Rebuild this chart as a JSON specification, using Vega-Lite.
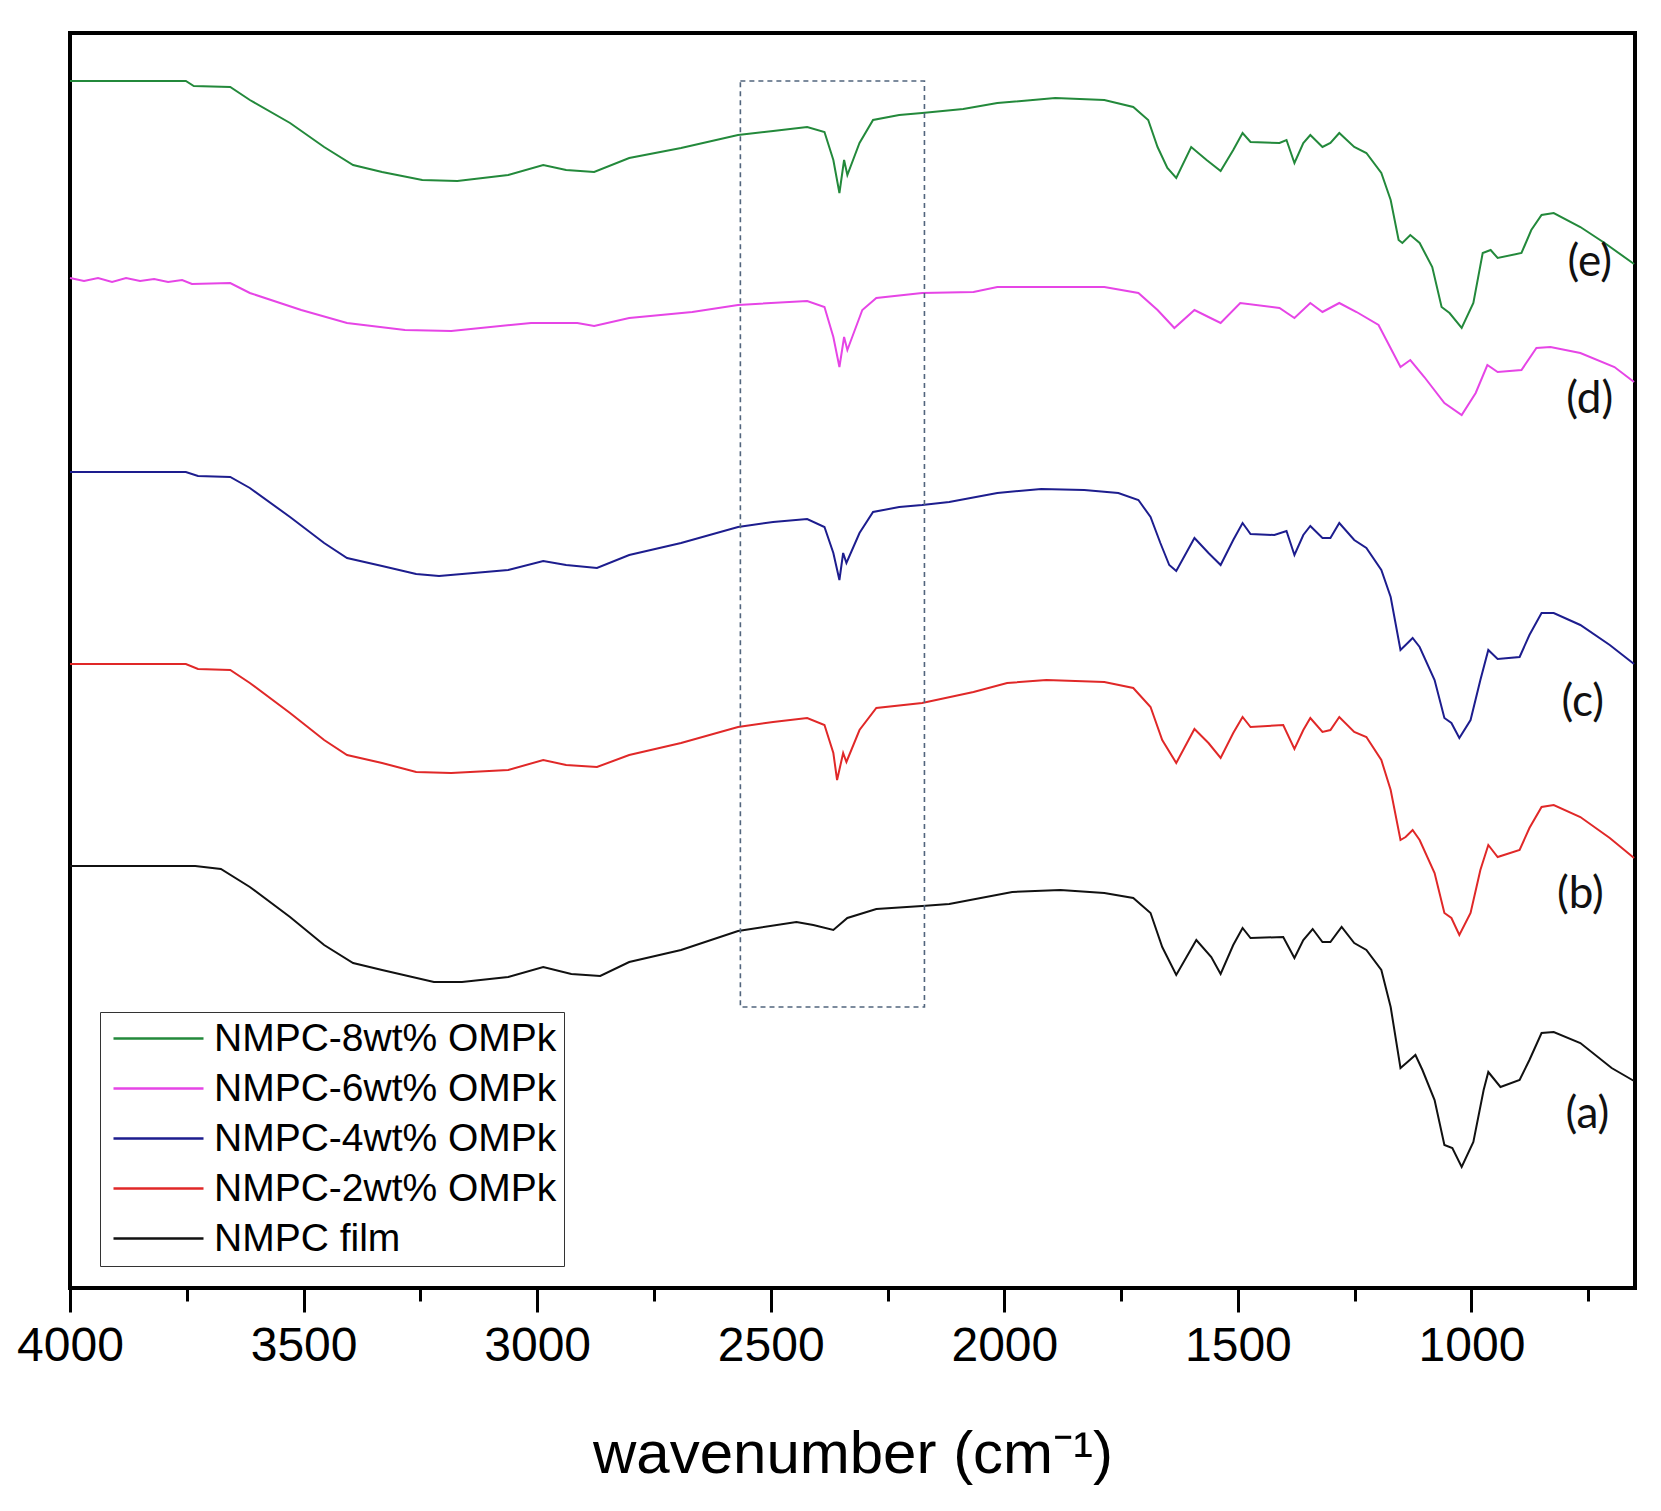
{
  "$schema": "https://vega.github.io/schema/vega-lite/v6.json",
  "description": "FTIR spectra of NMPC films with OMPk loadings (offset traces).",
  "autosize": {"type": "none"},
  "padding": {"left": 70, "top": 33, "right": 26, "bottom": 223},
  "width": 1565,
  "height": 1255,
  "background": "white",
  "config": {
    "view": {"stroke": "#000", "strokeWidth": 4},
    "font": "Liberation Sans"
  },
  "datasets": {
    "spectra": [
      {"series": "NMPC-8wt% OMPk", "wn": 4000, "t": 1207},
      {"series": "NMPC-8wt% OMPk", "wn": 3752, "t": 1207},
      {"series": "NMPC-8wt% OMPk", "wn": 3735, "t": 1202},
      {"series": "NMPC-8wt% OMPk", "wn": 3657, "t": 1201},
      {"series": "NMPC-8wt% OMPk", "wn": 3615, "t": 1188},
      {"series": "NMPC-8wt% OMPk", "wn": 3529, "t": 1165},
      {"series": "NMPC-8wt% OMPk", "wn": 3456, "t": 1141},
      {"series": "NMPC-8wt% OMPk", "wn": 3394, "t": 1123},
      {"series": "NMPC-8wt% OMPk", "wn": 3332, "t": 1116},
      {"series": "NMPC-8wt% OMPk", "wn": 3246, "t": 1108},
      {"series": "NMPC-8wt% OMPk", "wn": 3171, "t": 1107},
      {"series": "NMPC-8wt% OMPk", "wn": 3062, "t": 1113},
      {"series": "NMPC-8wt% OMPk", "wn": 2987, "t": 1123},
      {"series": "NMPC-8wt% OMPk", "wn": 2938, "t": 1118},
      {"series": "NMPC-8wt% OMPk", "wn": 2878, "t": 1116},
      {"series": "NMPC-8wt% OMPk", "wn": 2803, "t": 1130},
      {"series": "NMPC-8wt% OMPk", "wn": 2692, "t": 1140},
      {"series": "NMPC-8wt% OMPk", "wn": 2570, "t": 1153},
      {"series": "NMPC-8wt% OMPk", "wn": 2495, "t": 1157},
      {"series": "NMPC-8wt% OMPk", "wn": 2422, "t": 1161},
      {"series": "NMPC-8wt% OMPk", "wn": 2385, "t": 1156},
      {"series": "NMPC-8wt% OMPk", "wn": 2366, "t": 1128},
      {"series": "NMPC-8wt% OMPk", "wn": 2353, "t": 1095},
      {"series": "NMPC-8wt% OMPk", "wn": 2343, "t": 1128},
      {"series": "NMPC-8wt% OMPk", "wn": 2336, "t": 1113},
      {"series": "NMPC-8wt% OMPk", "wn": 2310, "t": 1145},
      {"series": "NMPC-8wt% OMPk", "wn": 2281, "t": 1168},
      {"series": "NMPC-8wt% OMPk", "wn": 2225, "t": 1173},
      {"series": "NMPC-8wt% OMPk", "wn": 2176, "t": 1175},
      {"series": "NMPC-8wt% OMPk", "wn": 2088, "t": 1179},
      {"series": "NMPC-8wt% OMPk", "wn": 2015, "t": 1185},
      {"series": "NMPC-8wt% OMPk", "wn": 1891, "t": 1190},
      {"series": "NMPC-8wt% OMPk", "wn": 1786, "t": 1188},
      {"series": "NMPC-8wt% OMPk", "wn": 1724, "t": 1181},
      {"series": "NMPC-8wt% OMPk", "wn": 1692, "t": 1168},
      {"series": "NMPC-8wt% OMPk", "wn": 1672, "t": 1141},
      {"series": "NMPC-8wt% OMPk", "wn": 1651, "t": 1120},
      {"series": "NMPC-8wt% OMPk", "wn": 1632, "t": 1110},
      {"series": "NMPC-8wt% OMPk", "wn": 1600, "t": 1141},
      {"series": "NMPC-8wt% OMPk", "wn": 1567, "t": 1128},
      {"series": "NMPC-8wt% OMPk", "wn": 1537, "t": 1117},
      {"series": "NMPC-8wt% OMPk", "wn": 1510, "t": 1138},
      {"series": "NMPC-8wt% OMPk", "wn": 1490, "t": 1155},
      {"series": "NMPC-8wt% OMPk", "wn": 1473, "t": 1146},
      {"series": "NMPC-8wt% OMPk", "wn": 1411, "t": 1145},
      {"series": "NMPC-8wt% OMPk", "wn": 1396, "t": 1148},
      {"series": "NMPC-8wt% OMPk", "wn": 1379, "t": 1125},
      {"series": "NMPC-8wt% OMPk", "wn": 1360, "t": 1145},
      {"series": "NMPC-8wt% OMPk", "wn": 1345, "t": 1153},
      {"series": "NMPC-8wt% OMPk", "wn": 1319, "t": 1141},
      {"series": "NMPC-8wt% OMPk", "wn": 1302, "t": 1145},
      {"series": "NMPC-8wt% OMPk", "wn": 1283, "t": 1155},
      {"series": "NMPC-8wt% OMPk", "wn": 1251, "t": 1141},
      {"series": "NMPC-8wt% OMPk", "wn": 1225, "t": 1135},
      {"series": "NMPC-8wt% OMPk", "wn": 1193, "t": 1115},
      {"series": "NMPC-8wt% OMPk", "wn": 1173, "t": 1088},
      {"series": "NMPC-8wt% OMPk", "wn": 1156, "t": 1048},
      {"series": "NMPC-8wt% OMPk", "wn": 1148, "t": 1045},
      {"series": "NMPC-8wt% OMPk", "wn": 1131, "t": 1053},
      {"series": "NMPC-8wt% OMPk", "wn": 1111, "t": 1045},
      {"series": "NMPC-8wt% OMPk", "wn": 1084, "t": 1021},
      {"series": "NMPC-8wt% OMPk", "wn": 1064, "t": 981},
      {"series": "NMPC-8wt% OMPk", "wn": 1047, "t": 975},
      {"series": "NMPC-8wt% OMPk", "wn": 1021, "t": 960},
      {"series": "NMPC-8wt% OMPk", "wn": 996, "t": 985},
      {"series": "NMPC-8wt% OMPk", "wn": 976, "t": 1035},
      {"series": "NMPC-8wt% OMPk", "wn": 959, "t": 1038},
      {"series": "NMPC-8wt% OMPk", "wn": 944, "t": 1030},
      {"series": "NMPC-8wt% OMPk", "wn": 893, "t": 1035},
      {"series": "NMPC-8wt% OMPk", "wn": 872, "t": 1058},
      {"series": "NMPC-8wt% OMPk", "wn": 850, "t": 1073},
      {"series": "NMPC-8wt% OMPk", "wn": 824, "t": 1075},
      {"series": "NMPC-8wt% OMPk", "wn": 767, "t": 1061},
      {"series": "NMPC-8wt% OMPk", "wn": 715, "t": 1045},
      {"series": "NMPC-8wt% OMPk", "wn": 652, "t": 1024},

      {"series": "NMPC-6wt% OMPk", "wn": 4000, "t": 1010},
      {"series": "NMPC-6wt% OMPk", "wn": 3970, "t": 1007},
      {"series": "NMPC-6wt% OMPk", "wn": 3940, "t": 1010},
      {"series": "NMPC-6wt% OMPk", "wn": 3910, "t": 1006},
      {"series": "NMPC-6wt% OMPk", "wn": 3880, "t": 1010},
      {"series": "NMPC-6wt% OMPk", "wn": 3850, "t": 1007},
      {"series": "NMPC-6wt% OMPk", "wn": 3820, "t": 1009},
      {"series": "NMPC-6wt% OMPk", "wn": 3790, "t": 1006},
      {"series": "NMPC-6wt% OMPk", "wn": 3760, "t": 1008},
      {"series": "NMPC-6wt% OMPk", "wn": 3739, "t": 1004},
      {"series": "NMPC-6wt% OMPk", "wn": 3657, "t": 1005},
      {"series": "NMPC-6wt% OMPk", "wn": 3615, "t": 995},
      {"series": "NMPC-6wt% OMPk", "wn": 3505, "t": 978},
      {"series": "NMPC-6wt% OMPk", "wn": 3407, "t": 965},
      {"series": "NMPC-6wt% OMPk", "wn": 3283, "t": 958},
      {"series": "NMPC-6wt% OMPk", "wn": 3184, "t": 957},
      {"series": "NMPC-6wt% OMPk", "wn": 3013, "t": 965},
      {"series": "NMPC-6wt% OMPk", "wn": 2914, "t": 965},
      {"series": "NMPC-6wt% OMPk", "wn": 2878, "t": 962},
      {"series": "NMPC-6wt% OMPk", "wn": 2803, "t": 970},
      {"series": "NMPC-6wt% OMPk", "wn": 2668, "t": 976},
      {"series": "NMPC-6wt% OMPk", "wn": 2570, "t": 983},
      {"series": "NMPC-6wt% OMPk", "wn": 2422, "t": 987},
      {"series": "NMPC-6wt% OMPk", "wn": 2385, "t": 981},
      {"series": "NMPC-6wt% OMPk", "wn": 2366, "t": 951},
      {"series": "NMPC-6wt% OMPk", "wn": 2353, "t": 921},
      {"series": "NMPC-6wt% OMPk", "wn": 2343, "t": 951},
      {"series": "NMPC-6wt% OMPk", "wn": 2336, "t": 938},
      {"series": "NMPC-6wt% OMPk", "wn": 2304, "t": 978},
      {"series": "NMPC-6wt% OMPk", "wn": 2274, "t": 990},
      {"series": "NMPC-6wt% OMPk", "wn": 2176, "t": 995},
      {"series": "NMPC-6wt% OMPk", "wn": 2066, "t": 996},
      {"series": "NMPC-6wt% OMPk", "wn": 2015, "t": 1001},
      {"series": "NMPC-6wt% OMPk", "wn": 1786, "t": 1001},
      {"series": "NMPC-6wt% OMPk", "wn": 1713, "t": 995},
      {"series": "NMPC-6wt% OMPk", "wn": 1672, "t": 978},
      {"series": "NMPC-6wt% OMPk", "wn": 1636, "t": 960},
      {"series": "NMPC-6wt% OMPk", "wn": 1593, "t": 978},
      {"series": "NMPC-6wt% OMPk", "wn": 1563, "t": 971},
      {"series": "NMPC-6wt% OMPk", "wn": 1537, "t": 965},
      {"series": "NMPC-6wt% OMPk", "wn": 1495, "t": 985},
      {"series": "NMPC-6wt% OMPk", "wn": 1411, "t": 980},
      {"series": "NMPC-6wt% OMPk", "wn": 1379, "t": 970},
      {"series": "NMPC-6wt% OMPk", "wn": 1345, "t": 985},
      {"series": "NMPC-6wt% OMPk", "wn": 1319, "t": 976},
      {"series": "NMPC-6wt% OMPk", "wn": 1283, "t": 985},
      {"series": "NMPC-6wt% OMPk", "wn": 1246, "t": 976},
      {"series": "NMPC-6wt% OMPk", "wn": 1199, "t": 963},
      {"series": "NMPC-6wt% OMPk", "wn": 1152, "t": 921},
      {"series": "NMPC-6wt% OMPk", "wn": 1131, "t": 928},
      {"series": "NMPC-6wt% OMPk", "wn": 1101, "t": 911},
      {"series": "NMPC-6wt% OMPk", "wn": 1058, "t": 885},
      {"series": "NMPC-6wt% OMPk", "wn": 1021, "t": 873},
      {"series": "NMPC-6wt% OMPk", "wn": 991, "t": 895},
      {"series": "NMPC-6wt% OMPk", "wn": 966, "t": 923},
      {"series": "NMPC-6wt% OMPk", "wn": 944, "t": 916},
      {"series": "NMPC-6wt% OMPk", "wn": 893, "t": 918},
      {"series": "NMPC-6wt% OMPk", "wn": 861, "t": 940},
      {"series": "NMPC-6wt% OMPk", "wn": 831, "t": 941},
      {"series": "NMPC-6wt% OMPk", "wn": 767, "t": 935},
      {"series": "NMPC-6wt% OMPk", "wn": 694, "t": 921},
      {"series": "NMPC-6wt% OMPk", "wn": 652, "t": 906},

      {"series": "NMPC-4wt% OMPk", "wn": 4000, "t": 816},
      {"series": "NMPC-4wt% OMPk", "wn": 3752, "t": 816},
      {"series": "NMPC-4wt% OMPk", "wn": 3726, "t": 812},
      {"series": "NMPC-4wt% OMPk", "wn": 3657, "t": 811},
      {"series": "NMPC-4wt% OMPk", "wn": 3615, "t": 800},
      {"series": "NMPC-4wt% OMPk", "wn": 3529, "t": 771},
      {"series": "NMPC-4wt% OMPk", "wn": 3456, "t": 745},
      {"series": "NMPC-4wt% OMPk", "wn": 3407, "t": 730},
      {"series": "NMPC-4wt% OMPk", "wn": 3332, "t": 722},
      {"series": "NMPC-4wt% OMPk", "wn": 3259, "t": 714},
      {"series": "NMPC-4wt% OMPk", "wn": 3210, "t": 712},
      {"series": "NMPC-4wt% OMPk", "wn": 3062, "t": 718},
      {"series": "NMPC-4wt% OMPk", "wn": 2987, "t": 727},
      {"series": "NMPC-4wt% OMPk", "wn": 2938, "t": 723},
      {"series": "NMPC-4wt% OMPk", "wn": 2872, "t": 720},
      {"series": "NMPC-4wt% OMPk", "wn": 2803, "t": 733},
      {"series": "NMPC-4wt% OMPk", "wn": 2692, "t": 745},
      {"series": "NMPC-4wt% OMPk", "wn": 2570, "t": 761},
      {"series": "NMPC-4wt% OMPk", "wn": 2495, "t": 766},
      {"series": "NMPC-4wt% OMPk", "wn": 2422, "t": 769},
      {"series": "NMPC-4wt% OMPk", "wn": 2385, "t": 761},
      {"series": "NMPC-4wt% OMPk", "wn": 2366, "t": 735},
      {"series": "NMPC-4wt% OMPk", "wn": 2353, "t": 708},
      {"series": "NMPC-4wt% OMPk", "wn": 2345, "t": 735},
      {"series": "NMPC-4wt% OMPk", "wn": 2338, "t": 725},
      {"series": "NMPC-4wt% OMPk", "wn": 2310, "t": 755},
      {"series": "NMPC-4wt% OMPk", "wn": 2281, "t": 776},
      {"series": "NMPC-4wt% OMPk", "wn": 2225, "t": 781},
      {"series": "NMPC-4wt% OMPk", "wn": 2176, "t": 783},
      {"series": "NMPC-4wt% OMPk", "wn": 2118, "t": 786},
      {"series": "NMPC-4wt% OMPk", "wn": 2015, "t": 795},
      {"series": "NMPC-4wt% OMPk", "wn": 1921, "t": 799},
      {"series": "NMPC-4wt% OMPk", "wn": 1829, "t": 798},
      {"series": "NMPC-4wt% OMPk", "wn": 1756, "t": 795},
      {"series": "NMPC-4wt% OMPk", "wn": 1713, "t": 788},
      {"series": "NMPC-4wt% OMPk", "wn": 1687, "t": 771},
      {"series": "NMPC-4wt% OMPk", "wn": 1666, "t": 745},
      {"series": "NMPC-4wt% OMPk", "wn": 1647, "t": 723},
      {"series": "NMPC-4wt% OMPk", "wn": 1632, "t": 717},
      {"series": "NMPC-4wt% OMPk", "wn": 1593, "t": 750},
      {"series": "NMPC-4wt% OMPk", "wn": 1563, "t": 735},
      {"series": "NMPC-4wt% OMPk", "wn": 1537, "t": 723},
      {"series": "NMPC-4wt% OMPk", "wn": 1510, "t": 748},
      {"series": "NMPC-4wt% OMPk", "wn": 1490, "t": 765},
      {"series": "NMPC-4wt% OMPk", "wn": 1473, "t": 754},
      {"series": "NMPC-4wt% OMPk", "wn": 1422, "t": 753},
      {"series": "NMPC-4wt% OMPk", "wn": 1396, "t": 757},
      {"series": "NMPC-4wt% OMPk", "wn": 1379, "t": 733},
      {"series": "NMPC-4wt% OMPk", "wn": 1360, "t": 753},
      {"series": "NMPC-4wt% OMPk", "wn": 1345, "t": 762},
      {"series": "NMPC-4wt% OMPk", "wn": 1319, "t": 750},
      {"series": "NMPC-4wt% OMPk", "wn": 1302, "t": 750},
      {"series": "NMPC-4wt% OMPk", "wn": 1283, "t": 765},
      {"series": "NMPC-4wt% OMPk", "wn": 1251, "t": 748},
      {"series": "NMPC-4wt% OMPk", "wn": 1225, "t": 740},
      {"series": "NMPC-4wt% OMPk", "wn": 1193, "t": 718},
      {"series": "NMPC-4wt% OMPk", "wn": 1173, "t": 691},
      {"series": "NMPC-4wt% OMPk", "wn": 1152, "t": 638},
      {"series": "NMPC-4wt% OMPk", "wn": 1141, "t": 643},
      {"series": "NMPC-4wt% OMPk", "wn": 1126, "t": 650},
      {"series": "NMPC-4wt% OMPk", "wn": 1111, "t": 641},
      {"series": "NMPC-4wt% OMPk", "wn": 1079, "t": 608},
      {"series": "NMPC-4wt% OMPk", "wn": 1058, "t": 570},
      {"series": "NMPC-4wt% OMPk", "wn": 1043, "t": 565},
      {"series": "NMPC-4wt% OMPk", "wn": 1026, "t": 550},
      {"series": "NMPC-4wt% OMPk", "wn": 1002, "t": 568},
      {"series": "NMPC-4wt% OMPk", "wn": 981, "t": 608},
      {"series": "NMPC-4wt% OMPk", "wn": 964, "t": 638},
      {"series": "NMPC-4wt% OMPk", "wn": 944, "t": 629},
      {"series": "NMPC-4wt% OMPk", "wn": 897, "t": 631},
      {"series": "NMPC-4wt% OMPk", "wn": 876, "t": 653},
      {"series": "NMPC-4wt% OMPk", "wn": 850, "t": 675},
      {"series": "NMPC-4wt% OMPk", "wn": 824, "t": 675},
      {"series": "NMPC-4wt% OMPk", "wn": 767, "t": 663},
      {"series": "NMPC-4wt% OMPk", "wn": 704, "t": 643},
      {"series": "NMPC-4wt% OMPk", "wn": 652, "t": 624},

      {"series": "NMPC-2wt% OMPk", "wn": 4000, "t": 624},
      {"series": "NMPC-2wt% OMPk", "wn": 3752, "t": 624},
      {"series": "NMPC-2wt% OMPk", "wn": 3726, "t": 619},
      {"series": "NMPC-2wt% OMPk", "wn": 3657, "t": 618},
      {"series": "NMPC-2wt% OMPk", "wn": 3615, "t": 605},
      {"series": "NMPC-2wt% OMPk", "wn": 3529, "t": 575},
      {"series": "NMPC-2wt% OMPk", "wn": 3456, "t": 548},
      {"series": "NMPC-2wt% OMPk", "wn": 3407, "t": 533},
      {"series": "NMPC-2wt% OMPk", "wn": 3332, "t": 525},
      {"series": "NMPC-2wt% OMPk", "wn": 3259, "t": 516},
      {"series": "NMPC-2wt% OMPk", "wn": 3184, "t": 515},
      {"series": "NMPC-2wt% OMPk", "wn": 3062, "t": 518},
      {"series": "NMPC-2wt% OMPk", "wn": 2987, "t": 528},
      {"series": "NMPC-2wt% OMPk", "wn": 2938, "t": 523},
      {"series": "NMPC-2wt% OMPk", "wn": 2872, "t": 521},
      {"series": "NMPC-2wt% OMPk", "wn": 2803, "t": 533},
      {"series": "NMPC-2wt% OMPk", "wn": 2692, "t": 545},
      {"series": "NMPC-2wt% OMPk", "wn": 2570, "t": 561},
      {"series": "NMPC-2wt% OMPk", "wn": 2495, "t": 566},
      {"series": "NMPC-2wt% OMPk", "wn": 2422, "t": 570},
      {"series": "NMPC-2wt% OMPk", "wn": 2385, "t": 563},
      {"series": "NMPC-2wt% OMPk", "wn": 2366, "t": 535},
      {"series": "NMPC-2wt% OMPk", "wn": 2358, "t": 508},
      {"series": "NMPC-2wt% OMPk", "wn": 2345, "t": 535},
      {"series": "NMPC-2wt% OMPk", "wn": 2338, "t": 526},
      {"series": "NMPC-2wt% OMPk", "wn": 2310, "t": 558},
      {"series": "NMPC-2wt% OMPk", "wn": 2274, "t": 580},
      {"series": "NMPC-2wt% OMPk", "wn": 2176, "t": 585},
      {"series": "NMPC-2wt% OMPk", "wn": 2066, "t": 596},
      {"series": "NMPC-2wt% OMPk", "wn": 1994, "t": 605},
      {"series": "NMPC-2wt% OMPk", "wn": 1910, "t": 608},
      {"series": "NMPC-2wt% OMPk", "wn": 1786, "t": 606},
      {"series": "NMPC-2wt% OMPk", "wn": 1724, "t": 600},
      {"series": "NMPC-2wt% OMPk", "wn": 1687, "t": 581},
      {"series": "NMPC-2wt% OMPk", "wn": 1662, "t": 548},
      {"series": "NMPC-2wt% OMPk", "wn": 1632, "t": 525},
      {"series": "NMPC-2wt% OMPk", "wn": 1593, "t": 559},
      {"series": "NMPC-2wt% OMPk", "wn": 1563, "t": 545},
      {"series": "NMPC-2wt% OMPk", "wn": 1537, "t": 530},
      {"series": "NMPC-2wt% OMPk", "wn": 1510, "t": 555},
      {"series": "NMPC-2wt% OMPk", "wn": 1490, "t": 571},
      {"series": "NMPC-2wt% OMPk", "wn": 1473, "t": 561},
      {"series": "NMPC-2wt% OMPk", "wn": 1403, "t": 563},
      {"series": "NMPC-2wt% OMPk", "wn": 1379, "t": 539},
      {"series": "NMPC-2wt% OMPk", "wn": 1360, "t": 558},
      {"series": "NMPC-2wt% OMPk", "wn": 1345, "t": 570},
      {"series": "NMPC-2wt% OMPk", "wn": 1319, "t": 556},
      {"series": "NMPC-2wt% OMPk", "wn": 1302, "t": 558},
      {"series": "NMPC-2wt% OMPk", "wn": 1283, "t": 571},
      {"series": "NMPC-2wt% OMPk", "wn": 1251, "t": 556},
      {"series": "NMPC-2wt% OMPk", "wn": 1225, "t": 551},
      {"series": "NMPC-2wt% OMPk", "wn": 1193, "t": 528},
      {"series": "NMPC-2wt% OMPk", "wn": 1173, "t": 498},
      {"series": "NMPC-2wt% OMPk", "wn": 1152, "t": 448},
      {"series": "NMPC-2wt% OMPk", "wn": 1141, "t": 451},
      {"series": "NMPC-2wt% OMPk", "wn": 1126, "t": 458},
      {"series": "NMPC-2wt% OMPk", "wn": 1111, "t": 448},
      {"series": "NMPC-2wt% OMPk", "wn": 1079, "t": 415},
      {"series": "NMPC-2wt% OMPk", "wn": 1058, "t": 375},
      {"series": "NMPC-2wt% OMPk", "wn": 1043, "t": 370},
      {"series": "NMPC-2wt% OMPk", "wn": 1026, "t": 353},
      {"series": "NMPC-2wt% OMPk", "wn": 1002, "t": 375},
      {"series": "NMPC-2wt% OMPk", "wn": 981, "t": 418},
      {"series": "NMPC-2wt% OMPk", "wn": 964, "t": 443},
      {"series": "NMPC-2wt% OMPk", "wn": 944, "t": 431},
      {"series": "NMPC-2wt% OMPk", "wn": 897, "t": 438},
      {"series": "NMPC-2wt% OMPk", "wn": 876, "t": 460},
      {"series": "NMPC-2wt% OMPk", "wn": 850, "t": 481},
      {"series": "NMPC-2wt% OMPk", "wn": 824, "t": 483},
      {"series": "NMPC-2wt% OMPk", "wn": 767, "t": 471},
      {"series": "NMPC-2wt% OMPk", "wn": 704, "t": 450},
      {"series": "NMPC-2wt% OMPk", "wn": 652, "t": 430},

      {"series": "NMPC film", "wn": 4000, "t": 422},
      {"series": "NMPC film", "wn": 3732, "t": 422},
      {"series": "NMPC film", "wn": 3677, "t": 419},
      {"series": "NMPC film", "wn": 3615, "t": 401},
      {"series": "NMPC film", "wn": 3529, "t": 371},
      {"series": "NMPC film", "wn": 3456, "t": 343},
      {"series": "NMPC film", "wn": 3394, "t": 325},
      {"series": "NMPC film", "wn": 3332, "t": 318},
      {"series": "NMPC film", "wn": 3221, "t": 306},
      {"series": "NMPC film", "wn": 3161, "t": 306},
      {"series": "NMPC film", "wn": 3062, "t": 311},
      {"series": "NMPC film", "wn": 2987, "t": 321},
      {"series": "NMPC film", "wn": 2927, "t": 314},
      {"series": "NMPC film", "wn": 2865, "t": 312},
      {"series": "NMPC film", "wn": 2803, "t": 326},
      {"series": "NMPC film", "wn": 2692, "t": 338},
      {"series": "NMPC film", "wn": 2570, "t": 357},
      {"series": "NMPC film", "wn": 2445, "t": 366},
      {"series": "NMPC film", "wn": 2409, "t": 363},
      {"series": "NMPC film", "wn": 2366, "t": 358},
      {"series": "NMPC film", "wn": 2336, "t": 370},
      {"series": "NMPC film", "wn": 2274, "t": 379},
      {"series": "NMPC film", "wn": 2176, "t": 382},
      {"series": "NMPC film", "wn": 2118, "t": 384},
      {"series": "NMPC film", "wn": 1983, "t": 396},
      {"series": "NMPC film", "wn": 1880, "t": 398},
      {"series": "NMPC film", "wn": 1786, "t": 395},
      {"series": "NMPC film", "wn": 1724, "t": 390},
      {"series": "NMPC film", "wn": 1687, "t": 375},
      {"series": "NMPC film", "wn": 1662, "t": 341},
      {"series": "NMPC film", "wn": 1632, "t": 313},
      {"series": "NMPC film", "wn": 1589, "t": 348},
      {"series": "NMPC film", "wn": 1557, "t": 331},
      {"series": "NMPC film", "wn": 1537, "t": 314},
      {"series": "NMPC film", "wn": 1510, "t": 343},
      {"series": "NMPC film", "wn": 1490, "t": 360},
      {"series": "NMPC film", "wn": 1473, "t": 350},
      {"series": "NMPC film", "wn": 1403, "t": 351},
      {"series": "NMPC film", "wn": 1379, "t": 330},
      {"series": "NMPC film", "wn": 1360, "t": 348},
      {"series": "NMPC film", "wn": 1340, "t": 359},
      {"series": "NMPC film", "wn": 1319, "t": 346},
      {"series": "NMPC film", "wn": 1302, "t": 346},
      {"series": "NMPC film", "wn": 1278, "t": 361},
      {"series": "NMPC film", "wn": 1251, "t": 345},
      {"series": "NMPC film", "wn": 1225, "t": 338},
      {"series": "NMPC film", "wn": 1193, "t": 318},
      {"series": "NMPC film", "wn": 1173, "t": 281},
      {"series": "NMPC film", "wn": 1152, "t": 220},
      {"series": "NMPC film", "wn": 1137, "t": 226},
      {"series": "NMPC film", "wn": 1120, "t": 233},
      {"series": "NMPC film", "wn": 1105, "t": 218},
      {"series": "NMPC film", "wn": 1079, "t": 188},
      {"series": "NMPC film", "wn": 1058, "t": 143},
      {"series": "NMPC film", "wn": 1041, "t": 140},
      {"series": "NMPC film", "wn": 1021, "t": 121},
      {"series": "NMPC film", "wn": 996, "t": 146},
      {"series": "NMPC film", "wn": 974, "t": 198},
      {"series": "NMPC film", "wn": 964, "t": 216},
      {"series": "NMPC film", "wn": 938, "t": 201},
      {"series": "NMPC film", "wn": 897, "t": 208},
      {"series": "NMPC film", "wn": 876, "t": 228},
      {"series": "NMPC film", "wn": 850, "t": 255},
      {"series": "NMPC film", "wn": 824, "t": 256},
      {"series": "NMPC film", "wn": 767, "t": 245},
      {"series": "NMPC film", "wn": 700, "t": 220},
      {"series": "NMPC film", "wn": 652, "t": 207}
    ],
    "tags": [
      {"tag": "(e)", "wn": 747, "t": 1025},
      {"tag": "(d)", "wn": 747, "t": 888},
      {"tag": "(c)", "wn": 762, "t": 585},
      {"tag": "(b)", "wn": 767, "t": 393},
      {"tag": "(a)", "wn": 752, "t": 173}
    ],
    "region": [
      {"wn": 2565, "wn2": 2171, "t": 281, "t2": 1207}
    ]
  },
  "layer": [
    {
      "data": {"name": "spectra"},
      "mark": {"type": "line", "strokeWidth": 2, "interpolate": "linear"},
      "encoding": {
        "x": {
          "field": "wn",
          "type": "quantitative",
          "scale": {"domain": [650, 4000], "reverse": true, "nice": false, "zero": false},
          "axis": {
            "values": [4000, 3750, 3500, 3250, 3000, 2750, 2500, 2250, 2000, 1750, 1500, 1250, 1000, 750],
            "format": "d",
            "labelExpr": "datum.value % 500 === 0 ? datum.label : ''",
            "tickSize": {"condition": {"test": "datum.value % 500 === 0", "value": 24}, "value": 13},
            "tickWidth": 3,
            "tickColor": "#000",
            "domain": false,
            "grid": false,
            "labelFont": "Liberation Sans",
            "labelFontSize": 48,
            "labelColor": "#000",
            "labelPadding": 10,
            "labelFlush": false,
            "labelOverlap": false,
            "title": "wavenumber (cm⁻¹)",
            "titleFont": "Liberation Sans",
            "titleFontSize": 60,
            "titleFontWeight": "normal",
            "titleColor": "#000",
            "titleBaseline": "alphabetic",
            "titleY": 184
          }
        },
        "y": {
          "field": "t",
          "type": "quantitative",
          "scale": {"domain": [0, 1255], "nice": false, "zero": false},
          "axis": null
        },
        "color": {
          "field": "series",
          "type": "nominal",
          "scale": {
            "domain": ["NMPC-8wt% OMPk", "NMPC-6wt% OMPk", "NMPC-4wt% OMPk", "NMPC-2wt% OMPk", "NMPC film"],
            "range": ["#23893b", "#e645e6", "#1d1d8e", "#e02828", "#111111"]
          },
          "legend": {
            "title": null,
            "orient": "none",
            "legendX": 30,
            "legendY": 979,
            "symbolType": "M-2.5,0H2.5",
            "symbolSize": 1296,
            "symbolOffset": 32,
            "symbolStrokeWidth": 2.5,
            "labelFont": "Liberation Sans",
            "labelFontSize": 39,
            "labelColor": "#000",
            "labelOffset": 36,
            "labelLimit": 600,
            "rowPadding": 10,
            "padding": 7,
            "strokeColor": "#333",
            "fillColor": "#fff"
          }
        }
      }
    },
    {
      "data": {"name": "region"},
      "mark": {"type": "rect", "filled": false, "stroke": "#52657d", "strokeDash": [5, 4], "strokeWidth": 1.6},
      "encoding": {
        "x": {"field": "wn", "type": "quantitative"},
        "x2": {"field": "wn2"},
        "y": {"field": "t", "type": "quantitative"},
        "y2": {"field": "t2"}
      }
    },
    {
      "data": {"name": "tags"},
      "mark": {"type": "text", "font": "Lato", "fontSize": 44, "align": "center", "baseline": "middle", "color": "#111"},
      "encoding": {
        "x": {"field": "wn", "type": "quantitative"},
        "y": {"field": "t", "type": "quantitative"},
        "text": {"field": "tag"}
      }
    }
  ]
}
